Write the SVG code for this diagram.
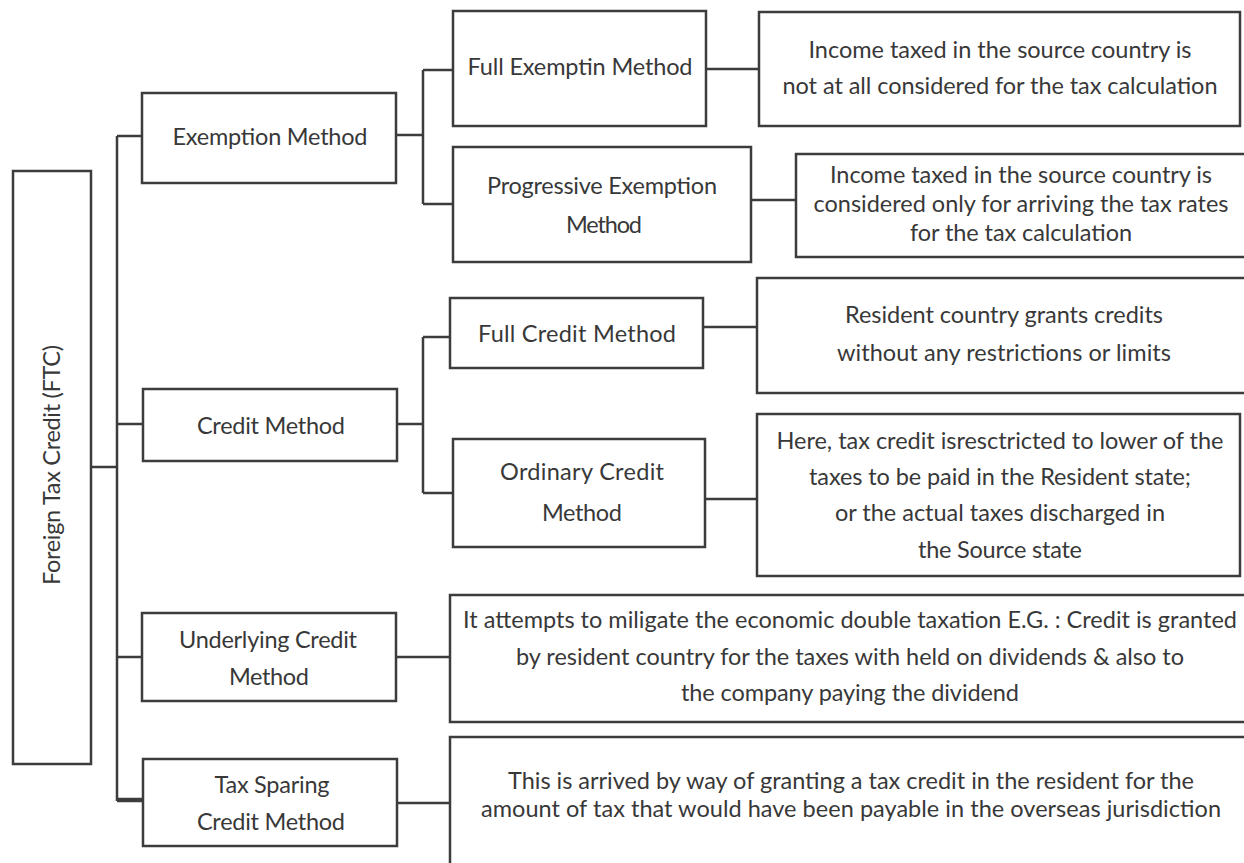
<svg xmlns="http://www.w3.org/2000/svg" width="1244" height="863" viewBox="0 0 1244 863">
<style>
.box{fill:#fff;stroke:#3c3c3c;stroke-width:2.5}
.c{fill:none;stroke:#3c3c3c;stroke-width:2.5}
.t{font-family:Lato,"Liberation Sans",sans-serif;font-size:23.5px;fill:#383838;text-anchor:middle}
</style>
<rect width="1244" height="863" fill="#fff"/>
<g id="connectors">
<path class="c" d="M91 467H117M117 136V801M117 136H142M117 424H143M117 657H142"/>
<path class="c" style="stroke-width:4.5" d="M117 800H143"/>
<path class="c" d="M396 135H423M423 70V204M423 70H453M423 204H453M706 69H759M751 200H796"/>
<path class="c" d="M397 424H423M423 337V493M423 337H450M423 493H453M703 327H757M705 499H757"/>
<path class="c" d="M396 657H450M397 803H450"/>
</g>
<g id="root">
<rect class="box" x="13" y="171" width="78" height="593"/>
<text class="t" transform="translate(60 465) rotate(-90)" textLength="240">Foreign Tax Credit (FTC)</text>
</g>
<g id="exemption">
<rect class="box" x="142" y="93" width="254" height="90"/>
<text class="t" x="270" y="145" textLength="195">Exemption Method</text>
</g>
<g id="full-exemption">
<rect class="box" x="453" y="11" width="253" height="115"/>
<text class="t" x="580" y="75" textLength="225">Full Exemptin Method</text>
</g>
<g id="progressive-exemption">
<rect class="box" x="453" y="147" width="298" height="115"/>
<text class="t" x="602" y="194" textLength="230">Progressive Exemption</text>
<text class="t" x="604" y="233" textLength="76">Method</text>
</g>
<g id="desc-full-exemption">
<rect class="box" x="759" y="12" width="481" height="114"/>
<text class="t" x="1000" y="58" textLength="383">Income taxed in the source country is</text>
<text class="t" x="1000" y="94" textLength="435">not at all considered for the tax calculation</text>
</g>
<g id="desc-progressive">
<rect class="box" x="796" y="154" width="452" height="103"/>
<text class="t" x="1021" y="183" textLength="382">Income taxed in the source country is</text>
<text class="t" x="1021" y="212" textLength="415">considered only for arriving the tax rates</text>
<text class="t" x="1021" y="241" textLength="222">for the tax calculation</text>
</g>
<g id="credit">
<rect class="box" x="143" y="389" width="254" height="72"/>
<text class="t" x="271" y="434" textLength="148">Credit Method</text>
</g>
<g id="full-credit">
<rect class="box" x="450" y="298" width="253" height="70"/>
<text class="t" x="577" y="342" textLength="198">Full Credit Method</text>
</g>
<g id="ordinary-credit">
<rect class="box" x="453" y="439" width="252" height="108"/>
<text class="t" x="582" y="480" textLength="164">Ordinary Credit</text>
<text class="t" x="582" y="521" textLength="80">Method</text>
</g>
<g id="desc-full-credit">
<rect class="box" x="757" y="278" width="494" height="115"/>
<text class="t" x="1004" y="323" textLength="318">Resident country grants credits</text>
<text class="t" x="1004" y="361" textLength="334">without any restrictions or limits</text>
</g>
<g id="desc-ordinary">
<rect class="box" x="757" y="414" width="483" height="162"/>
<text class="t" x="1000" y="449" textLength="447">Here, tax credit isresctricted to lower of the</text>
<text class="t" x="1000" y="485" textLength="382">taxes to be paid in the Resident state;</text>
<text class="t" x="1000" y="521" textLength="330">or the actual taxes discharged in</text>
<text class="t" x="1000" y="558" textLength="164">the Source state</text>
</g>
<g id="underlying">
<rect class="box" x="142" y="613" width="254" height="88"/>
<text class="t" x="268" y="648" textLength="178">Underlying Credit</text>
<text class="t" x="269" y="685" textLength="80">Method</text>
</g>
<g id="desc-underlying">
<rect class="box" x="450" y="595" width="800" height="127"/>
<text class="t" x="850" y="628" textLength="774">It attempts to miligate the economic double taxation E.G. : Credit is granted</text>
<text class="t" x="850" y="665" textLength="668">by resident country for the taxes with held on dividends &amp; also to</text>
<text class="t" x="850" y="701" textLength="338">the company paying the dividend</text>
</g>
<g id="tax-sparing">
<rect class="box" x="143" y="759" width="254" height="87"/>
<text class="t" x="272" y="793" textLength="115">Tax Sparing</text>
<text class="t" x="271" y="830" textLength="148">Credit Method</text>
</g>
<g id="desc-tax-sparing">
<rect class="box" x="450" y="737" width="802" height="150"/>
<text class="t" x="851" y="789" textLength="686">This is arrived by way of granting a tax credit in the resident for the</text>
<text class="t" x="851" y="817" textLength="740">amount of tax that would have been payable in the overseas jurisdiction</text>
</g>
</svg>
